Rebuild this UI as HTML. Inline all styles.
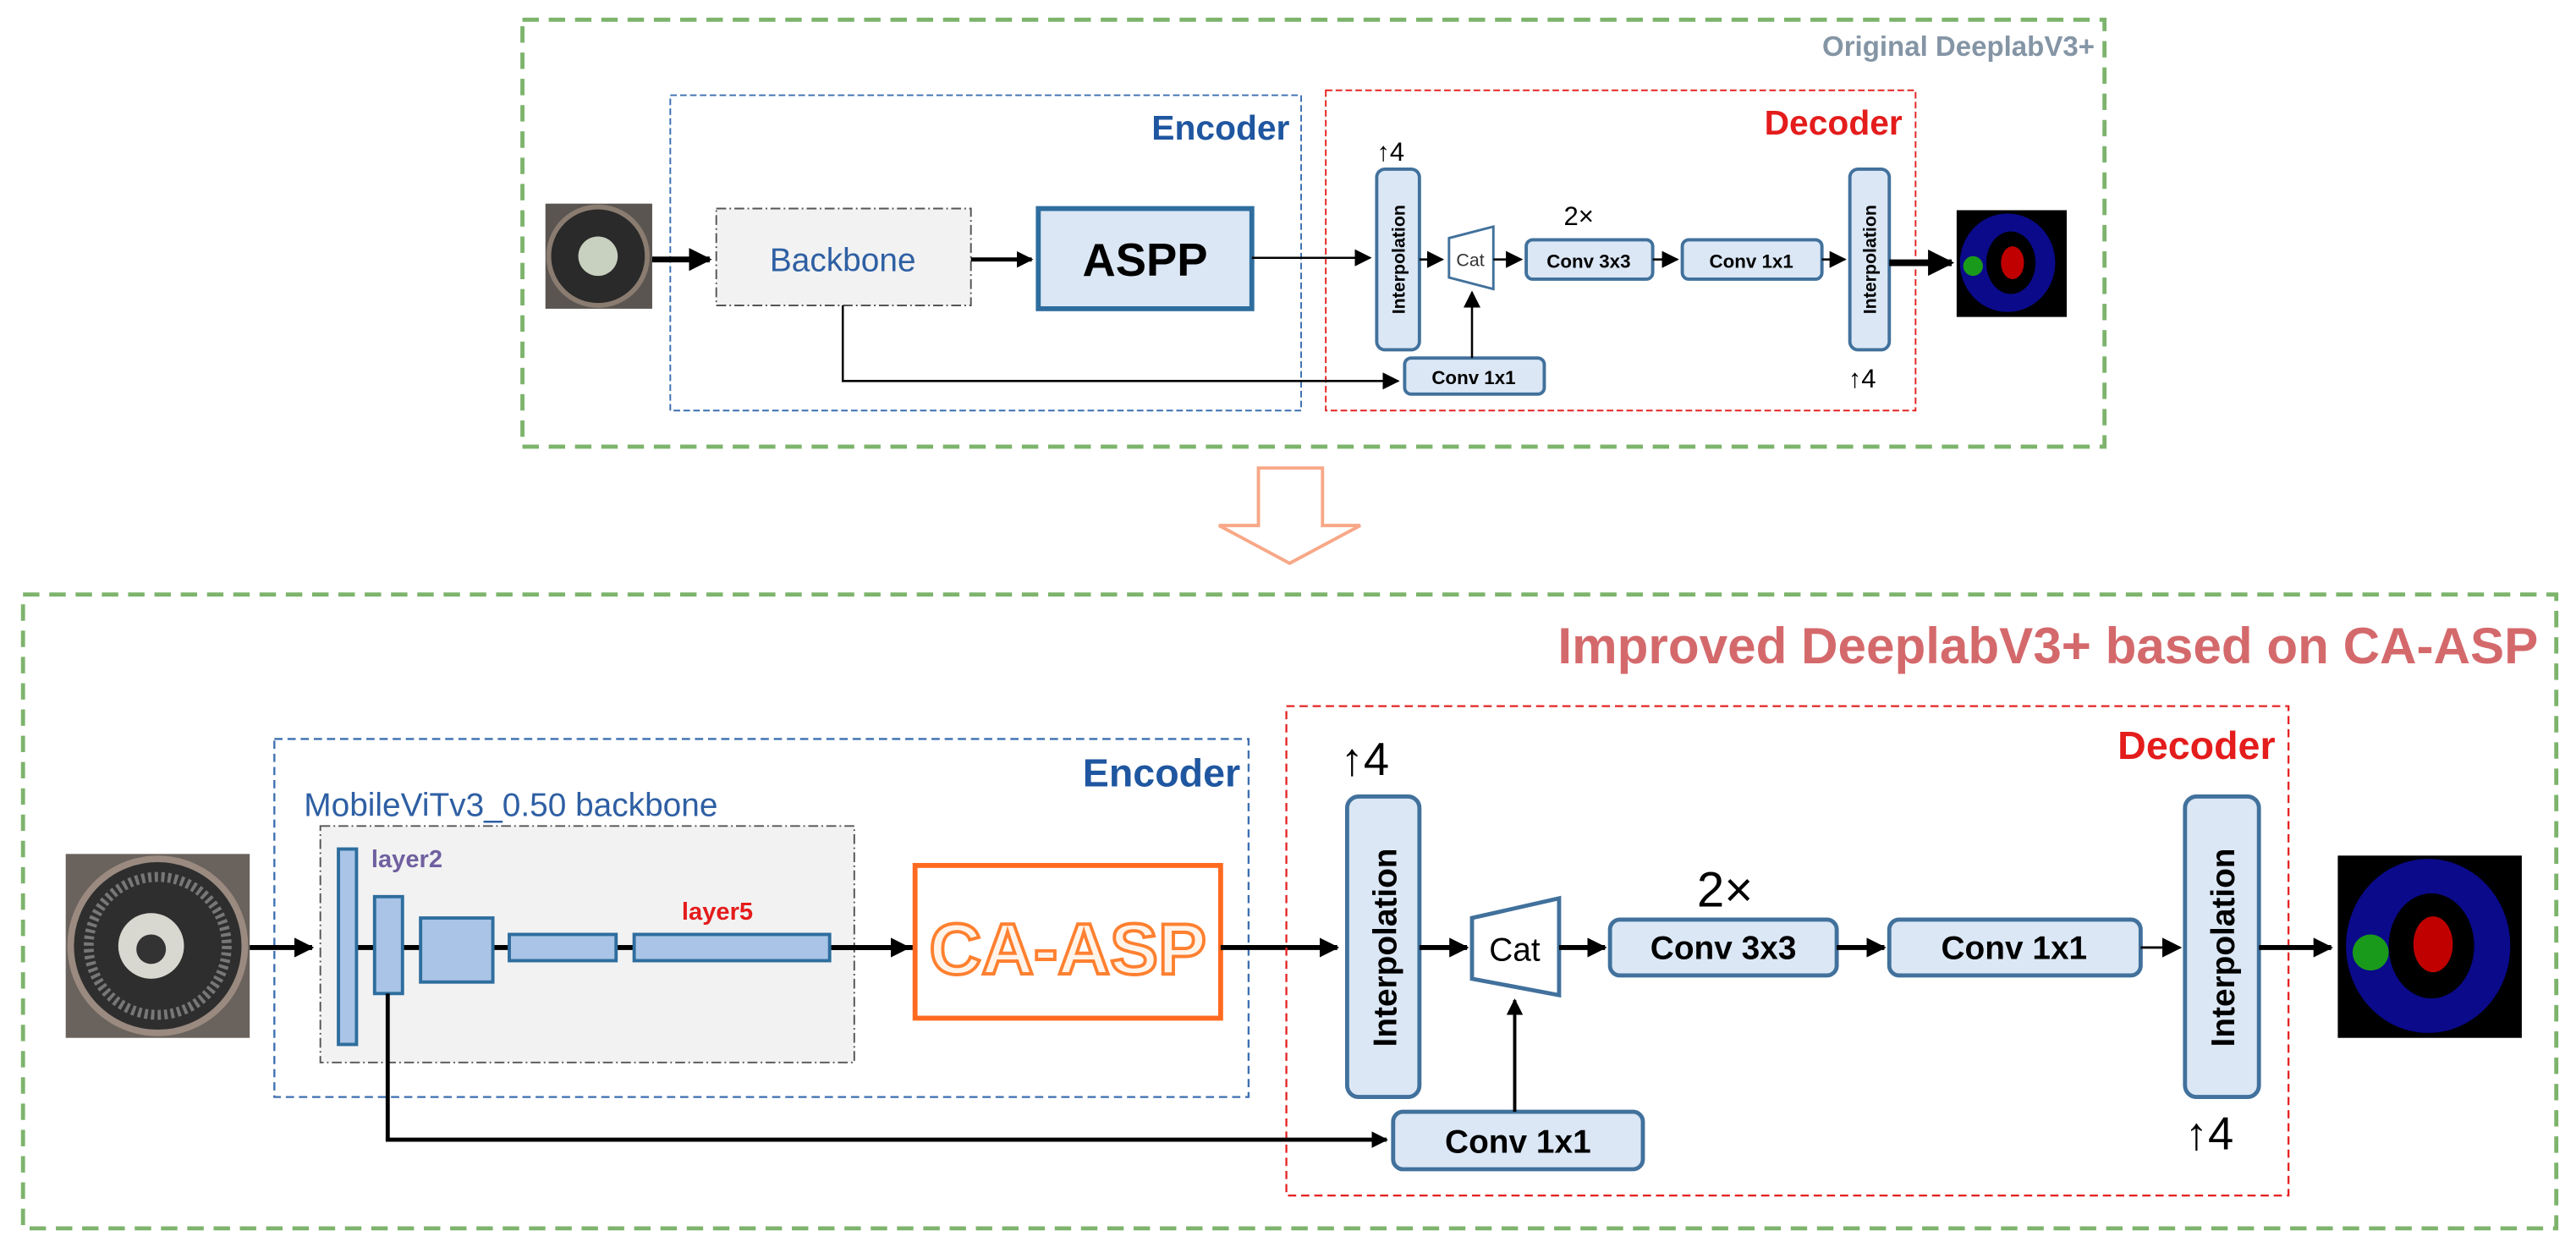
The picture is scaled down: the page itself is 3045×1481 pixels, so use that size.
<!DOCTYPE html>
<html><head><meta charset="utf-8"><style>
html,body{margin:0;padding:0;background:#fff;}
svg{display:block;}
text{font-family:"Liberation Sans",sans-serif;}
</style></head><body>
<svg width="3045" height="1481" viewBox="0 0 1568 763" preserveAspectRatio="none" xmlns="http://www.w3.org/2000/svg">
<defs>
<marker id="ah" viewBox="0 0 10 10" refX="9" refY="5" markerWidth="4" markerHeight="4" orient="auto" markerUnits="strokeWidth"><path d="M0,0 L10,5 L0,10 z" fill="#000"/></marker>
<marker id="ah2" viewBox="0 0 10 10" refX="9" refY="5" markerWidth="8" markerHeight="8" orient="auto" markerUnits="strokeWidth"><path d="M0,0 L10,5 L0,10 z" fill="#000"/></marker>
<marker id="ah3" viewBox="0 0 10 10" refX="9" refY="5" markerWidth="5" markerHeight="5" orient="auto" markerUnits="strokeWidth"><path d="M0,0 L10,5 L0,10 z" fill="#000"/></marker>
</defs>

<!-- TOP -->
<rect x="318" y="12" width="963" height="260" fill="none" stroke="#7db46c" stroke-width="2.5" stroke-dasharray="10,6"/>
<text x="1275" y="34" text-anchor="end" font-size="17" font-weight="bold" fill="#8495a5">Original DeeplabV3+</text>
<rect x="408" y="58" width="384" height="192" fill="none" stroke="#3c6fb0" stroke-width="1" stroke-dasharray="4,2"/>
<text x="785" y="85" text-anchor="end" font-size="21" font-weight="bold" fill="#1f56a0">Encoder</text>
<rect x="807" y="55" width="359" height="195" fill="none" stroke="#e52424" stroke-width="1" stroke-dasharray="4,2"/>
<text x="1158" y="82" text-anchor="end" font-size="21" font-weight="bold" fill="#e41c1c">Decoder</text>

<rect x="332" y="124" width="65" height="64" fill="#5a5550"/>
<circle cx="364" cy="156" r="30" fill="#2a2a2a" stroke="#8a7c70" stroke-width="3"/>
<circle cx="364" cy="156" r="12" fill="#c8d0c0"/>
<path d="M397 158 H432" stroke="#000" stroke-width="3.5" marker-end="url(#ah)"/>
<rect x="436" y="127" width="155" height="59" fill="#f2f2f2" stroke="#555" stroke-width="1" stroke-dasharray="6,2,1,2"/>
<text x="513" y="165" text-anchor="middle" font-size="20" fill="#2e5fa3">Backbone</text>
<path d="M591 158 H628" stroke="#000" stroke-width="2.5" marker-end="url(#ah)"/>
<rect x="632" y="127" width="130" height="61" fill="#dbe7f5" stroke="#2e6d9e" stroke-width="3"/>
<text x="697" y="168" text-anchor="middle" font-size="28" font-weight="bold" fill="#000">ASPP</text>
<path d="M762 157 H834" stroke="#000" stroke-width="1.3" marker-end="url(#ah2)"/>
<text x="838" y="98" font-size="16" font-family="Liberation Serif">↑4</text>
<rect x="838" y="103" width="26" height="110" rx="5" fill="#dbe7f5" stroke="#41719c" stroke-width="2"/>
<text transform="translate(855,158) rotate(-90)" text-anchor="middle" font-size="11" font-weight="bold">Interpolation</text>
<path d="M864 158 H878" stroke="#000" stroke-width="1.3" marker-end="url(#ah2)"/>
<path d="M882 145 L909 138 L909 176 L882 169 Z" fill="#fff" stroke="#41719c" stroke-width="1.5"/>
<text x="895" y="162" text-anchor="middle" font-size="11" fill="#333">Cat</text>
<path d="M909 158 H926" stroke="#000" stroke-width="1.3" marker-end="url(#ah2)"/>
<text x="961" y="137" text-anchor="middle" font-size="16" font-family="Liberation Serif">2×</text>
<rect x="929" y="146" width="77" height="24" rx="4" fill="#dbe7f5" stroke="#41719c" stroke-width="2"/>
<text x="967" y="163" text-anchor="middle" font-size="11.5" font-weight="bold">Conv 3x3</text>
<path d="M1006 158 H1021" stroke="#000" stroke-width="1.3" marker-end="url(#ah2)"/>
<rect x="1024" y="146" width="85" height="24" rx="4" fill="#dbe7f5" stroke="#41719c" stroke-width="2"/>
<text x="1066" y="163" text-anchor="middle" font-size="11.5" font-weight="bold">Conv 1x1</text>
<path d="M1109 158 H1123" stroke="#000" stroke-width="1.3" marker-end="url(#ah2)"/>
<rect x="1126" y="103" width="24" height="110" rx="5" fill="#dbe7f5" stroke="#41719c" stroke-width="2"/>
<text transform="translate(1142,158) rotate(-90)" text-anchor="middle" font-size="11" font-weight="bold">Interpolation</text>
<text x="1125" y="236" font-size="16" font-family="Liberation Serif">↑4</text>
<path d="M1150 160 H1188" stroke="#000" stroke-width="4" marker-end="url(#ah)"/>
<rect x="1191" y="128" width="67" height="65" fill="#000"/>
<ellipse cx="1222" cy="160" rx="29" ry="30" fill="#0a0a8a"/>
<ellipse cx="1224" cy="160" rx="15" ry="19" fill="#000"/>
<ellipse cx="1225" cy="160" rx="7" ry="10" fill="#c00000"/>
<circle cx="1201" cy="162" r="6" fill="#1a9a1a"/>
<path d="M513 186 V232 H851" fill="none" stroke="#000" stroke-width="1.3" marker-end="url(#ah2)"/>
<rect x="855" y="218" width="85" height="22" rx="4" fill="#dbe7f5" stroke="#41719c" stroke-width="2"/>
<text x="897" y="234" text-anchor="middle" font-size="11.5" font-weight="bold">Conv 1x1</text>
<path d="M896 218 V178" stroke="#000" stroke-width="1.3" marker-end="url(#ah2)"/>

<!-- ARROW -->
<path d="M766 285 H805 V320 H828 L785 343 L742 320 H766 Z" fill="#fff" stroke="#f8a888" stroke-width="2"/>

<!-- BOTTOM -->
<rect x="14" y="362" width="1542" height="386" fill="none" stroke="#7db46c" stroke-width="2.5" stroke-dasharray="10,6"/>
<text x="1545" y="404" text-anchor="end" font-size="31" font-weight="bold" fill="#d4696c">Improved DeeplabV3+ based on CA-ASP</text>
<rect x="167" y="450" width="593" height="218" fill="none" stroke="#3c6fb0" stroke-width="1.2" stroke-dasharray="5,3"/>
<text x="755" y="479" text-anchor="end" font-size="24" font-weight="bold" fill="#1f56a0">Encoder</text>
<text x="185" y="497" font-size="20" fill="#2e5fa3">MobileViTv3_0.50 backbone</text>
<rect x="195" y="503" width="325" height="144" fill="#f2f2f2" stroke="#555" stroke-width="1" stroke-dasharray="6,2,1,2"/>
<rect x="40" y="520" width="112" height="112" fill="#6a625c"/>
<circle cx="96" cy="576" r="53" fill="#2e2e2e" stroke="#9a8a80" stroke-width="4"/>
<circle cx="96" cy="576" r="42" fill="none" stroke="#777" stroke-width="6" stroke-dasharray="2,2"/>
<circle cx="92" cy="576" r="20" fill="#d8d8d0"/>
<circle cx="92" cy="578" r="9" fill="#333"/>
<path d="M152 577 H190" stroke="#000" stroke-width="3" marker-end="url(#ah)"/>
<path d="M217 577 H557" stroke="#000" stroke-width="3"/>
<path d="M505 577 H553" stroke="#000" stroke-width="3" marker-end="url(#ah)"/>
<rect x="206" y="517" width="11" height="119" fill="#a9c4e6" stroke="#2e6d9e" stroke-width="2"/>
<rect x="228" y="546" width="17" height="59" fill="#a9c4e6" stroke="#2e6d9e" stroke-width="2"/>
<rect x="256" y="559" width="44" height="39" fill="#a9c4e6" stroke="#2e6d9e" stroke-width="2"/>
<rect x="310" y="569" width="65" height="16" fill="#a9c4e6" stroke="#2e6d9e" stroke-width="2"/>
<rect x="386" y="569" width="119" height="16" fill="#a9c4e6" stroke="#2e6d9e" stroke-width="2"/>
<text x="226" y="528" font-size="15" font-weight="bold" fill="#7060a0">layer2</text>
<text x="415" y="560" font-size="15" font-weight="bold" fill="#e41c1c">layer5</text>
<rect x="557" y="527" width="186" height="93" fill="#fff" stroke="#ff6a20" stroke-width="3"/>
<text x="650" y="593" text-anchor="middle" font-size="44" font-weight="bold" fill="#fff4ea" stroke="#ff8030" stroke-width="2">CA-ASP</text>
<path d="M743 577 H814" stroke="#000" stroke-width="3" marker-end="url(#ah)"/>

<rect x="783" y="430" width="610" height="298" fill="none" stroke="#e52424" stroke-width="1.2" stroke-dasharray="5,3"/>
<text x="1385" y="462" text-anchor="end" font-size="24" font-weight="bold" fill="#e41c1c">Decoder</text>
<text x="816" y="472" font-size="28" font-family="Liberation Serif">↑4</text>
<rect x="820" y="485" width="44" height="183" rx="7" fill="#dbe7f5" stroke="#41719c" stroke-width="2.5"/>
<text transform="translate(850,577) rotate(-90)" text-anchor="middle" font-size="20" font-weight="bold">Interpolation</text>
<path d="M864 577 H893" stroke="#000" stroke-width="3" marker-end="url(#ah)"/>
<path d="M896 559 L949 547 L949 606 L896 596 Z" fill="#fff" stroke="#41719c" stroke-width="2.5"/>
<text x="922" y="585" text-anchor="middle" font-size="20" fill="#000">Cat</text>
<path d="M949 577 H977" stroke="#000" stroke-width="3" marker-end="url(#ah)"/>
<text x="1050" y="552" text-anchor="middle" font-size="30" font-family="Liberation Serif">2×</text>
<rect x="980" y="560" width="138" height="34" rx="6" fill="#dbe7f5" stroke="#41719c" stroke-width="2.5"/>
<text x="1049" y="584" text-anchor="middle" font-size="20" font-weight="bold">Conv 3x3</text>
<path d="M1118 577 H1147" stroke="#000" stroke-width="3" marker-end="url(#ah)"/>
<rect x="1150" y="560" width="153" height="34" rx="6" fill="#dbe7f5" stroke="#41719c" stroke-width="2.5"/>
<text x="1226" y="584" text-anchor="middle" font-size="20" font-weight="bold">Conv 1x1</text>
<path d="M1303 577 H1327" stroke="#000" stroke-width="1.5" marker-end="url(#ah2)"/>
<rect x="1330" y="485" width="45" height="183" rx="7" fill="#dbe7f5" stroke="#41719c" stroke-width="2.5"/>
<text transform="translate(1360,577) rotate(-90)" text-anchor="middle" font-size="20" font-weight="bold">Interpolation</text>
<text x="1330" y="700" font-size="28" font-family="Liberation Serif">↑4</text>
<path d="M1375 577 H1419" stroke="#000" stroke-width="3" marker-end="url(#ah)"/>
<rect x="1423" y="521" width="112" height="111" fill="#000"/>
<ellipse cx="1478" cy="576" rx="50" ry="53" fill="#0a0a8a"/>
<ellipse cx="1480" cy="576" rx="26" ry="32" fill="#000"/>
<ellipse cx="1481" cy="575" rx="12" ry="17" fill="#c00000"/>
<circle cx="1443" cy="580" r="11" fill="#1a9a1a"/>
<path d="M236 605 V694 H844" fill="none" stroke="#000" stroke-width="2.5" marker-end="url(#ah)"/>
<rect x="848" y="677" width="152" height="35" rx="6" fill="#dbe7f5" stroke="#41719c" stroke-width="2.5"/>
<text x="924" y="702" text-anchor="middle" font-size="20" font-weight="bold">Conv 1x1</text>
<path d="M922 677 V609" stroke="#000" stroke-width="2" marker-end="url(#ah3)"/>
</svg>
</body></html>
